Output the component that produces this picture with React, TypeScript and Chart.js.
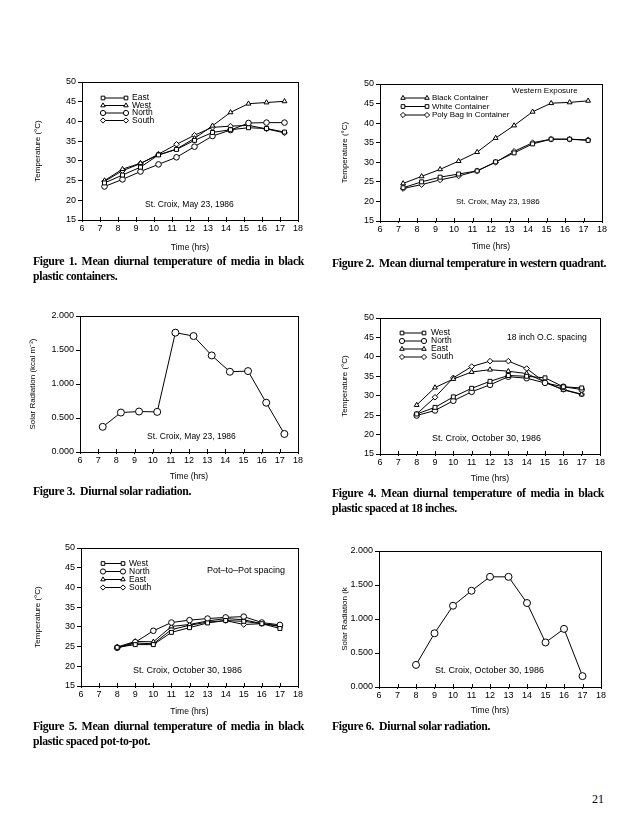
import React, { useEffect, useRef } from "react";
import { Chart, registerables } from "chart.js";

Chart.register(...registerables);

// ---------- data ----------
const hoursMay = [7.25, 8.25, 9.25, 10.25, 11.25, 12.25, 13.25, 14.25, 15.25, 16.25, 17.25];
const hoursOct = [8, 9, 10, 11, 12, 13, 14, 15, 16, 17];

const fig1East = [24.4, 26.4, 28.4, 31.5, 32.9, 35.2, 37.2, 37.9, 38.4, 38.2, 37.3];
const fig1West = [25.0, 27.9, 29.4, 31.5, 33.0, 35.7, 38.9, 42.3, 44.5, 44.8, 45.1];
const fig1North = [23.5, 25.3, 27.3, 29.1, 30.9, 33.6, 36.3, 37.8, 39.6, 39.7, 39.7];
const fig1South = [24.8, 27.5, 29.3, 31.7, 34.2, 36.5, 38.5, 38.8, 39.0, 38.1, 37.1];

const fig2Black = [24.6, 26.4, 28.2, 30.3, 32.6, 36.2, 39.4, 42.9, 45.1, 45.3, 45.7];
const fig2White = [23.5, 25.0, 26.2, 27.0, 27.8, 30.1, 32.4, 34.7, 35.9, 35.9, 35.6];
const fig2Poly = [23.3, 24.3, 25.5, 26.5, 27.8, 30.0, 32.8, 35.0, 35.9, 35.9, 35.7];

const fig3Rad = [0.37, 0.58, 0.595, 0.59, 1.755, 1.705, 1.42, 1.18, 1.19, 0.725, 0.265];

const fig4West = [25.3, 27.0, 29.7, 31.9, 33.7, 35.2, 35.0, 34.6, 32.3, 32.0];
const fig4North = [24.9, 26.2, 28.7, 31.0, 32.8, 34.9, 34.5, 33.3, 32.3, 31.6];
const fig4East = [27.6, 32.1, 34.3, 36.1, 36.7, 36.3, 35.7, 33.5, 31.5, 30.3];
const fig4South = [25.3, 29.6, 34.6, 37.5, 38.9, 38.9, 37.0, 33.4, 31.6, 30.4];

const fig5West = [24.8, 25.5, 25.5, 28.6, 29.8, 31.0, 31.6, 31.4, 30.8, 29.6];
const fig5North = [24.7, 26.1, 29.0, 31.1, 31.7, 32.1, 32.4, 32.6, 31.1, 30.5];
const fig5East = [24.9, 26.3, 26.2, 30.1, 30.6, 31.5, 32.1, 31.8, 30.8, 30.1];
const fig5South = [24.6, 25.9, 25.7, 29.3, 30.4, 31.2, 31.6, 30.6, 30.8, 30.3];

const fig6Rad = [0.325, 0.79, 1.195, 1.415, 1.62, 1.62, 1.235, 0.655, 0.855, 0.16];

const tempTicks = [15, 20, 25, 30, 35, 40, 45, 50];
const radTicks = [0, 0.5, 1.0, 1.5, 2.0];
const hourTicks = [6, 7, 8, 9, 10, 11, 12, 13, 14, 15, 16, 17, 18];

// ---------- layout ----------
type Sty = "rect" | "triangle" | "circle" | "rectRot";
interface Series { label: string; style: Sty; values: number[] }
interface Note { text: string; x: number; y: number; size?: number }
interface Spec {
  box: { left: number; top: number; right: number; bottom: number };
  hours: number[];
  series: Series[];
  yTicks: number[];
  yDecimals: number;
  yTitle: string;
  yTitleX: number;
  xTitleY: number;
  radius: number;
  legend?: { x1: number; x2: number; tx: number; ys: number[]; size: number };
  notes: Note[];
}

const PAD_L = 60, PAD_T = 12, PAD_R = 12, PAD_B = 40;
const SANS = '"Liberation Sans", Arial, sans-serif';

const specs: Spec[] = [
  {
    box: { left: 82, top: 82, right: 298, bottom: 220 },
    hours: hoursMay,
    series: [
      { label: "East", style: "rect", values: fig1East },
      { label: "West", style: "triangle", values: fig1West },
      { label: "North", style: "circle", values: fig1North },
      { label: "South", style: "rectRot", values: fig1South },
    ],
    yTicks: tempTicks, yDecimals: 0, yTitle: "Temperature (°C)", yTitleX: 38, xTitleY: 248, radius: 2.8,
    legend: { x1: 103, x2: 126, tx: 132, ys: [98, 105.5, 113, 120.5], size: 8.5 },
    notes: [{ text: "St. Croix, May 23, 1986", x: 145, y: 205, size: 8.5 }],
  },
  {
    box: { left: 380, top: 84, right: 602, bottom: 221 },
    hours: hoursMay,
    series: [
      { label: "Black Container", style: "triangle", values: fig2Black },
      { label: "White Container", style: "rect", values: fig2White },
      { label: "Poly Bag in Container", style: "rectRot", values: fig2Poly },
    ],
    yTicks: tempTicks, yDecimals: 0, yTitle: "Temperature (°C)", yTitleX: 345, xTitleY: 247, radius: 2.8,
    legend: { x1: 403, x2: 427, tx: 432, ys: [98, 106.5, 115], size: 8 },
    notes: [
      { text: "Western Exposure", x: 512, y: 91 },
      { text: "St. Croix, May 23, 1986", x: 456, y: 202 },
    ],
  },
  {
    box: { left: 80, top: 316, right: 298, bottom: 452 },
    hours: hoursMay,
    series: [{ label: "Solar radiation", style: "circle", values: fig3Rad }],
    yTicks: radTicks, yDecimals: 3, yTitle: "Solar Radiation (kcal m⁻²)", yTitleX: 33, xTitleY: 477, radius: 3.5,
    notes: [{ text: "St. Croix, May 23, 1986", x: 147, y: 437, size: 8.5 }],
  },
  {
    box: { left: 380, top: 318, right: 600, bottom: 454 },
    hours: hoursOct,
    series: [
      { label: "West", style: "rect", values: fig4West },
      { label: "North", style: "circle", values: fig4North },
      { label: "East", style: "triangle", values: fig4East },
      { label: "South", style: "rectRot", values: fig4South },
    ],
    yTicks: tempTicks, yDecimals: 0, yTitle: "Temperature (°C)", yTitleX: 345, xTitleY: 479, radius: 2.8,
    legend: { x1: 402, x2: 424, tx: 431, ys: [333, 341, 349, 357], size: 8.5 },
    notes: [
      { text: "18 inch O.C. spacing", x: 507, y: 338, size: 8.6 },
      { text: "St. Croix, October 30, 1986", x: 432, y: 439, size: 9 },
    ],
  },
  {
    box: { left: 81, top: 548, right: 298, bottom: 686 },
    hours: hoursOct,
    series: [
      { label: "West", style: "rect", values: fig5West },
      { label: "North", style: "circle", values: fig5North },
      { label: "East", style: "triangle", values: fig5East },
      { label: "South", style: "rectRot", values: fig5South },
    ],
    yTicks: tempTicks, yDecimals: 0, yTitle: "Temperature (°C)", yTitleX: 38, xTitleY: 712, radius: 2.8,
    legend: { x1: 103, x2: 123, tx: 129, ys: [563.5, 571.5, 579.5, 587.5], size: 8.5 },
    notes: [
      { text: "Pot–to–Pot spacing", x: 207, y: 571, size: 9 },
      { text: "St. Croix, October 30, 1986", x: 133, y: 671, size: 9 },
    ],
  },
  {
    box: { left: 379, top: 551, right: 601, bottom: 687 },
    hours: hoursOct,
    series: [{ label: "Solar radiation", style: "circle", values: fig6Rad }],
    yTicks: radTicks, yDecimals: 3, yTitle: "Solar Radiation (k", yTitleX: 345, xTitleY: 711, radius: 3.5,
    notes: [{ text: "St. Croix, October 30, 1986", x: 435, y: 671, size: 9 }],
  },
];

function drawMarker(ctx: CanvasRenderingContext2D, style: Sty, x: number, y: number, r: number) {
  ctx.beginPath();
  if (style === "circle") ctx.arc(x, y, r, 0, Math.PI * 2);
  else if (style === "rect") {
    const s = r * Math.SQRT1_2;
    ctx.rect(x - s, y - s, 2 * s, 2 * s);
  } else if (style === "rectRot") {
    ctx.moveTo(x, y - r); ctx.lineTo(x + r, y); ctx.lineTo(x, y + r); ctx.lineTo(x - r, y); ctx.closePath();
  } else {
    const size = (3 * r) / Math.sqrt(3);
    const h = (size * Math.sqrt(3)) / 2;
    ctx.moveTo(x - size / 2, y + h / 3); ctx.lineTo(x + size / 2, y + h / 3); ctx.lineTo(x, y - (2 * h) / 3); ctx.closePath();
  }
  ctx.fillStyle = "#fff";
  ctx.fill();
  ctx.stroke();
}

function Panel({ spec }: { spec: Spec }) {
  const ref = useRef<HTMLCanvasElement>(null);
  const L = spec.box.left - PAD_L;
  const T = spec.box.top - PAD_T;
  const W = spec.box.right - spec.box.left + PAD_L + PAD_R;
  const H = spec.box.bottom - spec.box.top + PAD_T + PAD_B;

  useEffect(() => {
    const yMin = spec.yTicks[0];
    const yMax = spec.yTicks[spec.yTicks.length - 1];
    const decor = {
      id: "decor",
      afterDraw(c: any) {
        const ctx: CanvasRenderingContext2D = c.ctx;
        const a = c.chartArea;
        ctx.save();
        ctx.strokeStyle = "#000";
        ctx.lineWidth = 1;
        ctx.strokeRect(Math.round(a.left) + 0.5, Math.round(a.top) + 0.5, Math.round(a.right - a.left), Math.round(a.bottom - a.top));
        const xs = c.scales.x;
        xs.ticks.forEach((t: any) => {
          const px = Math.round(xs.getPixelForValue(t.value)) + 0.5;
          ctx.beginPath();
          ctx.moveTo(px, Math.round(a.bottom));
          ctx.lineTo(px, Math.round(a.bottom) - 3);
          ctx.stroke();
        });
        ctx.fillStyle = "#000";
        // axis titles
        ctx.font = `8px ${SANS}`;
        ctx.textAlign = "center";
        ctx.textBaseline = "middle";
        ctx.save();
        ctx.translate(spec.yTitleX - L, (a.top + a.bottom) / 2);
        ctx.rotate(-Math.PI / 2);
        ctx.fillText(spec.yTitle, 0, 0);
        ctx.restore();
        ctx.font = `8.5px ${SANS}`;
        ctx.fillText("Time (hrs)", (a.left + a.right) / 2, spec.xTitleY - T);
        // legend
        if (spec.legend) {
          const lg = spec.legend;
          spec.series.forEach((s, i) => {
            const y = lg.ys[i] - T;
            ctx.beginPath();
            ctx.moveTo(lg.x1 - L, y);
            ctx.lineTo(lg.x2 - L, y);
            ctx.stroke();
            drawMarker(ctx, s.style, lg.x1 - L, y, 2.6);
            drawMarker(ctx, s.style, lg.x2 - L, y, 2.6);
            ctx.fillStyle = "#000";
            ctx.font = `${lg.size}px ${SANS}`;
            ctx.textAlign = "left";
            ctx.fillText(s.label, lg.tx - L, y);
          });
        }
        ctx.textAlign = "left";
        spec.notes.forEach((n) => {
          ctx.font = `${n.size || 8}px ${SANS}`;
          ctx.fillStyle = "#000";
          ctx.fillText(n.text, n.x - L, n.y - T);
        });
        ctx.restore();
      },
    };
    const tickFont = { family: SANS, size: 9 };
    const chart = new Chart(ref.current as HTMLCanvasElement, {
      type: "line",
      data: {
        datasets: spec.series.map((s) => ({
          label: s.label,
          data: spec.hours.map((h, i) => ({ x: h, y: s.values[i] })),
          borderColor: "#000",
          borderWidth: 1,
          pointStyle: s.style,
          pointRadius: spec.radius,
          pointBackgroundColor: "#fff",
          pointBorderColor: "#000",
          pointBorderWidth: 1,
          fill: false,
          tension: 0,
        })),
      },
      options: {
        responsive: false,
        animation: false,
        events: [],
        layout: { padding: { left: 0, top: PAD_T, right: PAD_R, bottom: 0 } },
        plugins: { legend: { display: false }, tooltip: { enabled: false }, title: { display: false } },
        scales: {
          x: {
            type: "linear",
            min: hourTicks[0],
            max: hourTicks[hourTicks.length - 1],
            afterBuildTicks: (sc: any) => { sc.ticks = hourTicks.map((v) => ({ value: v })); },
            ticks: { autoSkip: false, maxRotation: 0, color: "#000", font: tickFont, padding: 1 },
            grid: { display: true, drawOnChartArea: false, drawTicks: true, tickLength: 2, color: "#000", lineWidth: 1 },
            border: { display: false },
            afterFit: (sc: any) => { sc.height = PAD_B; },
          },
          y: {
            type: "linear",
            min: yMin,
            max: yMax,
            afterBuildTicks: (sc: any) => { sc.ticks = spec.yTicks.map((v) => ({ value: v })); },
            ticks: {
              autoSkip: false,
              color: "#000",
              font: tickFont,
              padding: 2,
              callback: (v: any) => Number(v).toFixed(spec.yDecimals),
            },
            grid: { display: true, drawOnChartArea: false, drawTicks: true, tickLength: 4, color: "#000", lineWidth: 1 },
            border: { display: false },
            afterFit: (sc: any) => { sc.width = PAD_L; },
          },
        },
      } as any,
      plugins: [decor],
    });
    return () => chart.destroy();
  }, []);

  return (
    <canvas
      ref={ref}
      width={W}
      height={H}
      style={{ position: "absolute", left: L, top: T, width: W, height: H }}
    />
  );
}

// ---------- captions ----------
interface Caption { x: number; y: number; width: number; lines: string[] }
const captions: Caption[] = [
  { x: 33, y: 254, width: 271, lines: ["Figure 1.  Mean diurnal temperature of media in black", "plastic containers."] },
  { x: 332, y: 256, width: 274, lines: ["Figure 2.  Mean diurnal temperature in western quadrant."] },
  { x: 33, y: 484, width: 271, lines: ["Figure 3.  Diurnal solar radiation."] },
  { x: 332, y: 486, width: 272, lines: ["Figure 4.  Mean diurnal temperature of media in black", "plastic spaced at 18 inches."] },
  { x: 33, y: 719, width: 271, lines: ["Figure 5.  Mean diurnal temperature of media in black", "plastic spaced pot-to-pot."] },
  { x: 332, y: 719, width: 272, lines: ["Figure 6.  Diurnal solar radiation."] },
];

export default function App() {
  return (
    <div style={{ position: "absolute", left: 0, top: 0, width: 630, height: 824, background: "#fff", overflow: "hidden" }}>
      {specs.map((s, i) => (
        <Panel key={i} spec={s} />
      ))}
      {captions.map((c, i) => (
        <div
          key={"c" + i}
          style={{
            position: "absolute",
            left: c.x,
            top: c.y,
            width: c.width,
            fontFamily: '"Liberation Serif", "Times New Roman", serif',
            fontWeight: "bold",
            fontSize: 11.8,
            lineHeight: "15px",
            letterSpacing: "-0.35px",
            color: "#000",
            whiteSpace: "pre",
          }}
        >
          {c.lines.map((ln, j) => (
            <div
              key={j}
              style={
                j < c.lines.length - 1 && c.lines.length > 1
                  ? { textAlign: "justify", textAlignLast: "justify", whiteSpace: "normal" }
                  : {}
              }
            >
              {ln}
            </div>
          ))}
        </div>
      ))}
      <div
        style={{
          position: "absolute",
          left: 592,
          top: 792,
          fontFamily: '"Liberation Serif", "Times New Roman", serif',
          fontSize: 12,
          color: "#000",
        }}
      >
        21
      </div>
    </div>
  );
}
